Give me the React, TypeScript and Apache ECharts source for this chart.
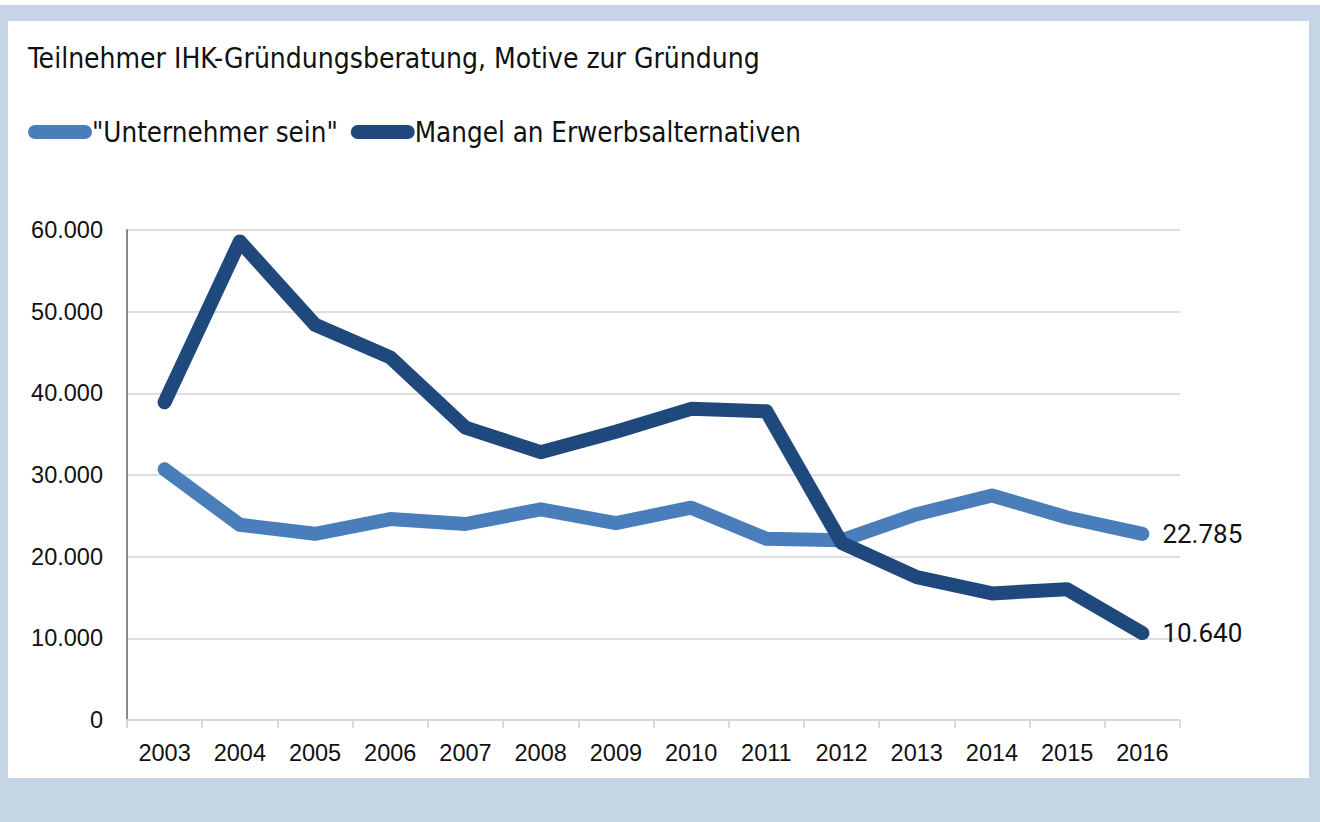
import React, { useEffect, useRef } from "react";
import * as echarts from "echarts";

const years = ["2003", "2004", "2005", "2006", "2007", "2008", "2009", "2010", "2011", "2012", "2013", "2014", "2015", "2016"];
const unternehmerSein = [30700, 23900, 22800, 24600, 24000, 25800, 24100, 26000, 22200, 22000, 25200, 27500, 24800, 22785];
const mangelErwerb = [38900, 58600, 48400, 44400, 35800, 32800, 35300, 38100, 37800, 21700, 17500, 15500, 16000, 10640];
const seriesNames = ['"Unternehmer sein"', "Mangel an Erwerbsalternativen"];
const titleText = "Teilnehmer IHK-Gründungsberatung, Motive zur Gründung";

const fmt = (v: number) => String(Math.round(v)).replace(/\B(?=(\d{3})+(?!\d))/g, ".");

const NARROW = '"Liberation Sans Narrow", "DejaVu Sans Condensed", "Liberation Sans", sans-serif';
const AXISFONT = '"Liberation Sans", Arial, sans-serif';

export default function App() {
  const ref = useRef<HTMLDivElement>(null);
  useEffect(() => {
    document.body.style.margin = "0";
    const chart = echarts.init(ref.current!, null, { renderer: "svg" });
    chart.setOption({
      animation: false,
      backgroundColor: "#ffffff",
      graphic: [
        { type: "rect", z: -10, shape: { x: 0, y: 5, width: 1320, height: 817 }, style: { fill: "#c5d5e5" } },
        { type: "rect", z: -9, shape: { x: 8, y: 21, width: 1301, height: 757 }, style: { fill: "#ffffff" } },
      ],
      title: {
        text: titleText,
        left: 28,
        top: 44,
        padding: 0,
        textStyle: { fontFamily: NARROW, fontSize: 28, fontWeight: "normal", color: "#111" },
      },
      legend: {
        left: 28,
        top: 118,
        padding: 0,
        itemWidth: 64,
        itemHeight: 14,
        itemGap: 13,
        icon: "path://M7,0 L57,0 A7,7 0 0 1 57,14 L7,14 A7,7 0 0 1 7,0 Z",
        textStyle: { fontFamily: NARROW, fontSize: 27.5, color: "#111", padding: [0, 0, 0, -5] },
        data: seriesNames,
      },
      grid: { left: 127, right: 140, top: 230, bottom: 102, containLabel: false },
      xAxis: {
        type: "category",
        data: years,
        boundaryGap: true,
        axisLine: { show: true, lineStyle: { color: "#d9d9d9", width: 2 } },
        axisTick: { show: true, length: 8, lineStyle: { color: "#d9d9d9", width: 2 } },
        axisLabel: { fontFamily: AXISFONT, fontSize: 23.5, color: "#111", margin: 21 },
      },
      yAxis: {
        type: "value",
        min: 0,
        max: 60000,
        interval: 10000,
        axisLine: { show: true, lineStyle: { color: "#888888", width: 2 } },
        axisTick: { show: false },
        splitLine: { lineStyle: { color: "#dedede", width: 2 } },
        axisLabel: { fontFamily: AXISFONT, fontSize: 23.5, color: "#111", margin: 24, formatter: (v: number) => fmt(v) },
      },
      series: [
        {
          name: seriesNames[0],
          type: "line",
          data: unternehmerSein,
          symbol: "none",
          color: "#4a7ebb",
          lineStyle: { width: 14, color: "#4a7ebb", cap: "round", join: "round" },
          endLabel: {
            show: true,
            distance: 20,
            fontFamily: 'Roboto, "Liberation Sans", sans-serif',
            fontSize: 26,
            color: "#111",
            formatter: (p: any) => fmt(p.value),
          },
        },
        {
          name: seriesNames[1],
          type: "line",
          data: mangelErwerb,
          symbol: "none",
          color: "#1f497d",
          lineStyle: { width: 14, color: "#1f497d", cap: "round", join: "round" },
          endLabel: {
            show: true,
            distance: 20,
            fontFamily: 'Roboto, "Liberation Sans", sans-serif',
            fontSize: 26,
            color: "#111",
            formatter: (p: any) => fmt(p.value),
          },
        },
      ],
    });
    return () => chart.dispose();
  }, []);
  return <div ref={ref} style={{ width: 1320, height: 822 }} />;
}
